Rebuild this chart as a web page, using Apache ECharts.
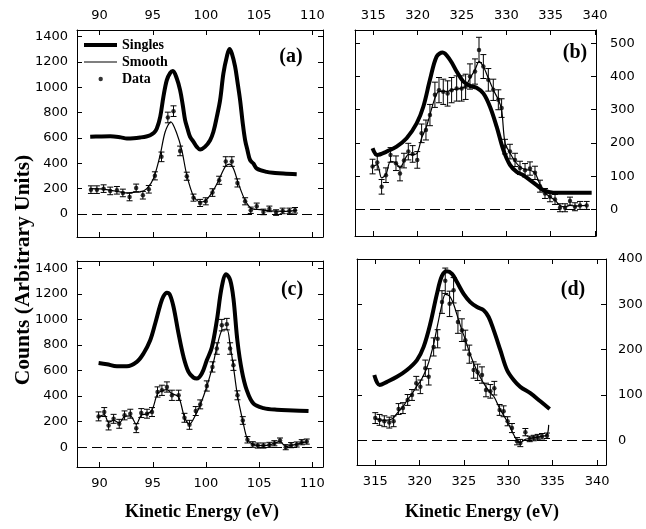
<!DOCTYPE html>
<html><head><meta charset="utf-8">
<script src="https://cdn.jsdelivr.net/npm/echarts@6/dist/echarts.min.js"></script>
<style>html,body{margin:0;padding:0;background:#fff}#c{width:646px;height:529px}</style>
</head><body><div id="c"></div>
<script>
// ---------- tick labels ----------
const lowXTicks = [90, 95, 100, 105, 110];
const highXTicks = [315, 320, 325, 330, 335, 340];
const countTicks1400 = [0, 200, 400, 600, 800, 1000, 1200, 1400];
const countTicks500 = [0, 100, 200, 300, 400, 500];
const countTicks400 = [0, 100, 200, 300, 400];
const seriesNames = ['Singles', 'Smooth', 'Data'];
const panelLabels = ['(a)', '(b)', '(c)', '(d)'];

// ---------- panel (a) ----------
const aSinglesX = [89.12,90.0,91.0,92.0,92.57,93.2,93.82,94.4,94.76,95.1,95.38,95.7,96.0,96.32,96.64,96.89,97.26,97.57,97.82,98.04,98.26,98.51,98.83,99.14,99.45,99.9,100.39,100.7,101.02,101.33,101.64,101.96,102.21,102.43,102.74,102.96,103.21,103.46,103.68,103.9,104.15,104.46,104.77,105.71,106.5,107.28,108.53];
const aSinglesY = [609,612,614,605,596,598,604,612,622,640,675,767,925,1057,1115,1129,1070,978,860,741,675,609,570,530,509,530,583,649,767,899,1110,1242,1303,1268,1163,1044,899,715,583,504,425,398,359,332,324,319,314];
const aSmoothX = [89.12,90.06,91.0,91.94,92.57,93.19,93.82,94.44,95.07,95.69,96.17,96.7,97.26,97.73,98.2,98.83,99.45,99.92,100.55,101.17,101.8,102.21,102.58,103.05,103.68,104.3,105.09,106.03,107.28,108.53];
const aSmoothY = [200,198,187,174,166,171,174,200,280,464,649,728,636,504,306,140,95,103,166,261,372,393,359,240,108,42,34,24,21,29];
const aDataX = [89.19,89.75,90.38,91.0,91.63,92.19,92.82,93.44,94.07,94.63,95.2,95.82,96.42,96.95,97.57,98.2,98.83,99.45,99.98,100.61,101.24,101.86,102.43,102.96,103.68,104.21,104.77,105.4,105.96,106.59,107.21,107.84,108.37];
const aDataY = [192,192,200,182,187,166,134,206,148,195,301,451,762,812,498,298,129,87,100,169,266,414,414,245,100,29,61,16,40,11,24,24,29];
const aDataErr = [30,30,30,30,30,30,30,30,30,30,32,38,42,42,38,32,28,28,28,30,32,38,38,32,28,25,25,22,22,22,22,22,22];

// ---------- panel (b) ----------
const bSinglesX = [314.92,315.45,316.5,317.63,318.76,319.89,320.64,321.39,322.14,322.82,323.65,324.4,325.15,325.9,326.65,327.41,328.16,328.91,329.66,330.41,331.17,331.92,332.67,333.42,334.17,335.3,336.8,339.62];
const bSinglesY = [184,164,174,189,214,259,309,390,460,472,450,415,385,372,366,349,309,249,179,134,113,103,88,73,58,50,50,50];
const bDataX = [314.92,315.45,315.94,316.43,316.95,317.56,318.01,318.46,318.95,319.44,319.96,320.45,320.94,321.39,321.95,322.41,322.89,323.38,323.83,324.4,324.96,325.41,325.9,326.47,326.92,327.41,327.97,328.53,329.1,329.47,329.85,330.41,330.98,331.54,332.11,332.67,333.23,333.8,334.36,334.92,335.49,336.05,336.62,337.18,337.74,338.31,339.06];
const bDataY = [129,141,68,103,164,139,108,147,174,167,149,229,239,284,345,359,354,349,359,364,364,369,400,415,480,430,390,360,330,305,189,174,149,125,118,123,110,70,48,38,30,5,5,25,8,12,12];
const bDataErr = [22,22,22,22,22,22,22,22,25,25,25,28,30,32,38,38,38,38,38,38,38,38,38,38,38,36,34,32,30,28,22,22,20,20,20,20,20,18,15,15,15,12,12,12,12,12,12];
const bSmoothX = bDataX;
const bSmoothY = [129,135,95,105,145,140,125,145,165,165,170,215,245,285,335,355,355,355,360,362,365,370,395,420,445,430,395,360,330,300,200,170,145,128,120,118,110,75,50,38,28,12,8,12,10,11,12];

// ---------- panel (c) ----------
const cSinglesX = [89.91,90.69,91.63,92.57,93.5,94.13,94.76,95.23,95.7,96.0,96.33,96.6,96.95,97.42,97.89,98.36,98.83,99.14,99.61,100.08,100.55,101.02,101.49,101.9,102.27,102.58,102.96,103.37,103.84,104.47,105.41,106.66,108.23,109.64];
const cSinglesY = [659,649,633,633,667,733,837,968,1112,1180,1209,1195,1099,890,707,589,544,537,576,680,780,990,1256,1353,1309,1165,830,600,445,340,306,293,288,283];
const cDataX = [89.91,90.44,90.85,91.32,91.85,92.35,92.89,93.45,93.92,94.46,94.93,95.45,95.86,96.33,96.8,97.43,97.98,98.45,99.04,99.46,100.08,100.61,101.02,101.49,101.96,102.27,102.58,102.96,103.46,103.9,104.4,104.87,105.4,105.96,106.43,106.96,107.5,108.0,108.53,109.0,109.47];
const cDataY = [241,275,170,222,183,249,262,149,267,262,275,432,445,471,406,406,230,175,283,335,479,628,772,955,963,772,641,406,209,58,21,13,13,18,31,52,0,16,21,39,44];
const cDataErr = [35,35,35,35,35,35,35,35,35,35,35,40,40,40,40,40,35,35,35,35,40,40,45,45,45,45,40,35,30,25,22,20,20,20,20,20,20,20,20,20,20];
const cSmoothX = cDataX;
const cSmoothY = [235,255,195,210,190,240,245,180,250,260,290,420,440,450,420,395,235,180,255,330,475,630,780,915,925,800,630,405,205,60,22,14,13,18,30,45,5,15,22,36,42];

// ---------- panel (d) ----------
const dSinglesX = [314.89,315.49,316.32,317.44,318.57,319.7,320.45,321.2,321.95,322.52,323.08,323.65,324.21,324.96,325.71,326.47,327.22,327.78,328.35,329.1,329.85,330.6,331.35,332.48,333.61,334.66];
const dSinglesY = [144,122,129,140,155,177,206,257,323,363,373,367,349,323,305,294,287,272,243,199,155,133,118,104,86,69];
const dDataX = [315.0,315.49,316.02,316.58,317.07,317.63,318.12,318.65,319.14,319.62,320.08,320.64,321.02,321.58,322.03,322.52,322.89,323.38,323.83,324.32,324.77,325.15,325.6,326.09,326.54,327.03,327.48,327.97,328.42,329.02,329.47,329.92,330.41,330.98,331.35,331.92,332.41,332.86,333.31,333.8,334.36];
const dDataY = [49,45,42,39,42,69,71,89,100,126,118,159,140,206,224,305,352,301,331,261,243,221,190,155,150,144,111,108,115,67,64,42,27,-2,-6,18,3,5,7,9,10];
const dDataErr = [12,12,12,12,12,12,12,12,12,15,15,18,18,20,20,25,28,28,28,25,25,22,20,18,18,18,15,15,15,12,12,10,10,8,8,8,6,6,6,6,6];
const dSmoothX = [315.0,315.49,316.02,316.58,317.07,317.63,318.12,318.65,319.14,319.62,320.08,320.64,321.02,321.58,322.03,322.52,322.89,323.38,323.83,324.32,324.77,325.15,325.6,326.09,326.54,327.03,327.48,327.97,328.42,329.02,329.47,329.92,330.41,330.98,331.35,331.92,332.41,332.86,333.31,333.8,334.36,334.55];
const dSmoothY = [49,45,44,45,50,64,74,90,102,118,130,152,172,212,255,300,322,318,300,270,243,222,195,170,150,132,118,105,95,70,55,40,20,0,-5,2,4,6,7,9,12,34];

// ---------- layout ----------
const BLACK = '#000';
const TICK_FONT = 'DejaVu Sans';
const panels = [
  {grid:{left:77, top:30, width:246, height:207}, x:[87.88,111.0], y:[-182,1453], xt:lowXTicks, yt:countTicks1400, xPos:'top', yPos:'left', xm:8, ym:9,
   s:[aSinglesX,aSinglesY], m:[aSmoothX,aSmoothY], d:[aDataX,aDataY,aDataErr]},
  {grid:{left:355, top:30, width:241, height:206}, x:[312.94,340.11], y:[-80,540], xt:highXTicks, yt:countTicks500, xPos:'top', yPos:'right', xm:8, ym:14,
   s:[bSinglesX,bSinglesY], m:[bSmoothX,bSmoothY], d:[bDataX,bDataY,bDataErr]},
  {grid:{left:77, top:261, width:246, height:206}, x:[87.88,111.0], y:[-155,1457], xt:lowXTicks, yt:countTicks1400, xPos:'bottom', yPos:'left', xm:10, ym:9,
   s:[cSinglesX,cSinglesY], m:[cSmoothX,cSmoothY], d:[cDataX,cDataY,cDataErr]},
  {grid:{left:357, top:259, width:249, height:206}, x:[312.94,341.01], y:[-54.5,400], xt:highXTicks, yt:countTicks400, xPos:'bottom', yPos:'right', xm:10, ym:12,
   s:[dSinglesX,dSinglesY], m:[dSmoothX,dSmoothY], d:[dDataX,dDataY,dDataErr]},
];

const zip = (xs, ys) => xs.map((x, i) => [x, ys[i]]);
const zip3 = (xs, ys, es) => xs.map((x, i) => [x, ys[i], es[i]]);
const opp = {top:'bottom', bottom:'top', left:'right', right:'left'};
const plain = v => String(v);

const grid = [], xAxis = [], yAxis = [], series = [];
panels.forEach((p, i) => {
  grid.push(Object.assign({containLabel:false}, p.grid));
  [p.xPos, opp[p.xPos]].forEach((pos, k) => {
    xAxis.push({
      type:'value', gridIndex:i, position:pos, min:p.x[0], max:p.x[1],
      splitLine:{show:false},
      axisLine:{show:true, onZero:false, lineStyle:{color:BLACK, width:1}},
      axisTick:{show:true, inside:true, length:5, customValues:p.xt, lineStyle:{color:BLACK, width:1}},
      axisLabel:{show:k===0, customValues:p.xt, formatter:plain, margin:p.xm, color:BLACK, fontFamily:TICK_FONT, fontSize:13}
    });
  });
  [p.yPos, opp[p.yPos]].forEach((pos, k) => {
    yAxis.push({
      type:'value', gridIndex:i, position:pos, min:p.y[0], max:p.y[1],
      splitLine:{show:false},
      axisLine:{show:true, onZero:false, lineStyle:{color:BLACK, width:1}},
      axisTick:{show:true, inside:true, length:5, customValues:p.yt, lineStyle:{color:BLACK, width:1}},
      axisLabel:{show:k===0, customValues:p.yt, formatter:plain, margin:p.ym, color:BLACK, fontFamily:TICK_FONT, fontSize:13}
    });
  });
  const xi = 2*i, yi = 2*i;
  series.push({
    name:'Singles', type:'line', xAxisIndex:xi, yAxisIndex:yi, data:zip(p.s[0], p.s[1]),
    symbol:'none', smooth:0.35, lineStyle:{color:BLACK, width:4}, itemStyle:{color:BLACK}, z:3
  });
  series.push({
    name:'Smooth', type:'line', xAxisIndex:xi, yAxisIndex:yi, data:zip(p.m[0], p.m[1]),
    symbol:'none', smooth:0.3, lineStyle:{color:BLACK, width:1.2}, itemStyle:{color:BLACK}, z:3,
    markLine:{silent:true, symbol:['none','none'], label:{show:false},
      lineStyle:{color:BLACK, width:1, type:[10,5]}, data:[{yAxis:0}], animation:false}
  });
  series.push({
    type:'custom', xAxisIndex:xi, yAxisIndex:yi, data:zip3(p.d[0], p.d[1], p.d[2]),
    encode:{x:0, y:1}, z:4,
    renderItem:(params, api) => {
      const x = api.value(0), y = api.value(1), e = api.value(2);
      const t = api.coord([x, y + e]), b = api.coord([x, y - e]);
      const w = 3, st = {stroke:BLACK, lineWidth:1};
      return {type:'group', children:[
        {type:'line', shape:{x1:t[0], y1:t[1], x2:b[0], y2:b[1]}, style:st},
        {type:'line', shape:{x1:t[0]-w, y1:t[1], x2:t[0]+w, y2:t[1]}, style:st},
        {type:'line', shape:{x1:b[0]-w, y1:b[1], x2:b[0]+w, y2:b[1]}, style:st}
      ]};
    }
  });
  series.push({
    name:'Data', type:'scatter', xAxisIndex:xi, yAxisIndex:yi, data:zip(p.d[0], p.d[1]),
    symbol:'circle', symbolSize:4.5, itemStyle:{color:BLACK}, z:5
  });
});

const panelPos = [[291,57],[575,53],[292,290],[573,290]];
const graphic = [
  {type:'text', x:23, y:270, rotation:Math.PI/2,
   style:{text:'Counts (Arbitrary Units)', font:'bold 21.5px "Liberation Serif"', fill:BLACK, align:'center', verticalAlign:'middle'}},
  {type:'text', x:202, y:512, style:{text:'Kinetic Energy (eV)', font:'bold 18px "Liberation Serif"', fill:BLACK, align:'center', verticalAlign:'middle'}},
  {type:'text', x:482, y:512, style:{text:'Kinetic Energy (eV)', font:'bold 18px "Liberation Serif"', fill:BLACK, align:'center', verticalAlign:'middle'}},
].concat(panelLabels.map((t, i) => ({type:'text', x:panelPos[i][0], y:panelPos[i][1],
  style:{text:t, font:'bold 20px "Liberation Serif"', fill:BLACK, align:'center', verticalAlign:'middle'}})));

const legendIcons = {
  Singles:'path://M0,0 M0,5 L33,5 L33,9 L0,9 Z M33,14',
  Smooth:'path://M0,0 M0,6.4 L33,6.4 L33,7.6 L0,7.6 Z M33,14',
  Data:'path://M0,0 M14.5,7 A2.2,2.2 0 1 1 18.9,7 A2.2,2.2 0 1 1 14.5,7 Z M33,14'
};

const chart = echarts.init(document.getElementById('c'), null, {renderer:'canvas'});
chart.setOption({
  animation:false,
  backgroundColor:'#fff',
  grid, xAxis, yAxis, series, graphic,
  legend:{
    left:84, top:38, orient:'vertical', padding:0, itemWidth:33, itemHeight:14, itemGap:3,
    selectedMode:false, symbolKeepAspect:false,
    textStyle:{fontFamily:'Liberation Serif', fontWeight:'bold', fontSize:14, color:BLACK},
    data:seriesNames.map(n => ({name:n, icon:legendIcons[n], itemStyle:{color:BLACK, borderWidth:0}}))
  }
});
</script>
</body></html>
